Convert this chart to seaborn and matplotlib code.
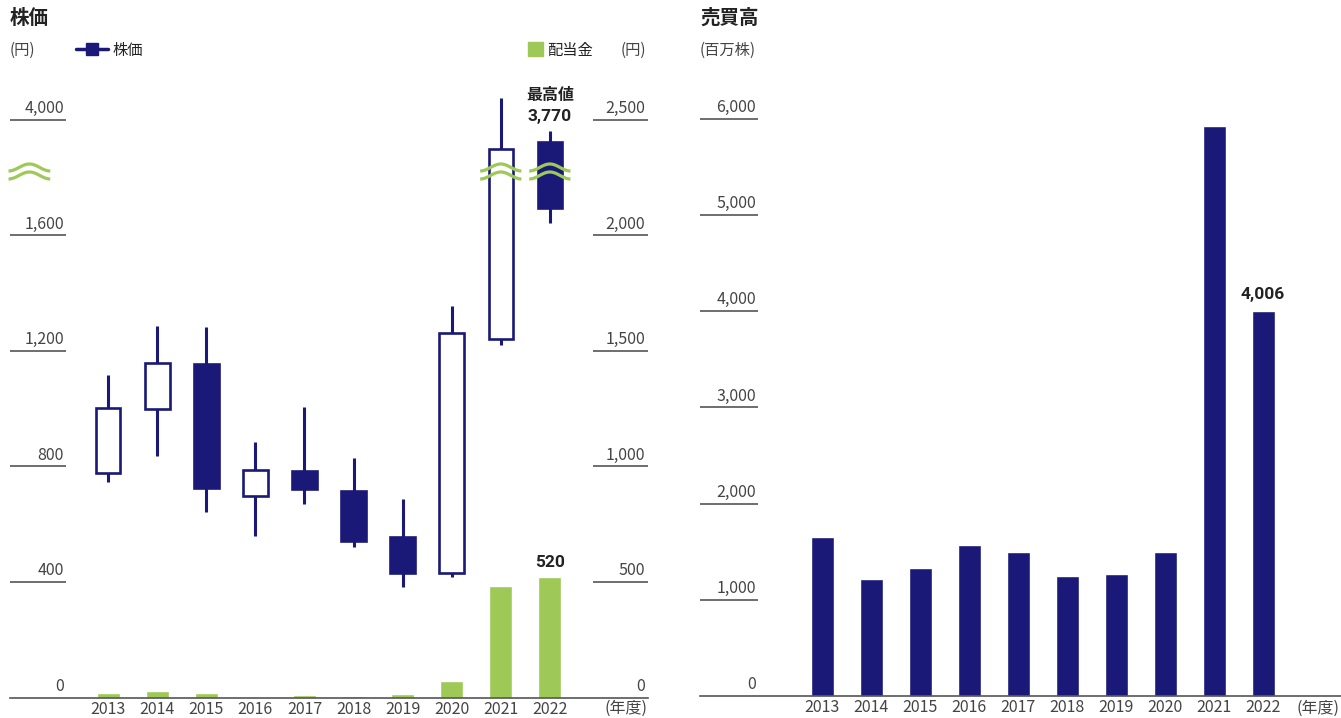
import numpy as np
import matplotlib
matplotlib.use("Agg")
import matplotlib.pyplot as plt
import matplotlib.transforms as mtransforms
from matplotlib.lines import Line2D
from matplotlib.patches import Patch
import seaborn as sns

# data
years = ["2013", "2014", "2015", "2016", "2017", "2018", "2019", "2020", "2021", "2022"]
price_open = [778, 1000, 1155, 698, 783, 715, 556, 432, 1240, 3534]
price_close = [1003, 1157, 726, 788, 721, 543, 432, 1261, 3396, 2176]
price_high = [1118, 1286, 1283, 885, 1006, 829, 687, 1356, 4450, 3770]
price_low = [747, 837, 643, 560, 671, 522, 384, 416, 1220, 1864]
dividend = [20, 26.7, 20, 0, 10, 6.7, 13.3, 70, 483.3, 520]
volume = [1653, 1216, 1331, 1570, 1497, 1247, 1268, 1497, 5930, 4006]

price_ticks = [0, 400, 800, 1200, 1600, 4000]
price_tick_labels = ["0", "400", "800", "1,200", "1,600", "4,000"]
div_ticks = [0, 500, 1000, 1500, 2000, 2500]
div_tick_labels = ["0", "500", "1,000", "1,500", "2,000", "2,500"]
vol_ticks = [0, 1000, 2000, 3000, 4000, 5000, 6000]
vol_tick_labels = ["0", "1,000", "2,000", "3,000", "4,000", "5,000", "6,000"]

NAVY = "#1b1977"
GREEN = "#9ec957"
TXT = "#222222"
TICK = "#444444"
LINE = "#555555"

sns.set_theme(style="white")
plt.rcParams["font.family"] = ["Liberation Sans Narrow", "Noto Sans CJK JP", "DejaVu Sans"]
JP = ["Noto Sans CJK JP", "DejaVu Sans"]
BOLDNUM = ["Roboto", "Noto Sans CJK JP"]

W, H = 1341, 718
fig = plt.figure(figsize=(W / 100, H / 100), dpi=100)


def fx(x):
    return x / W


def fy(y):
    return 1 - y / H


# broken price axis: linear to 1,600, compressed above
BRK = 1600.0
SQZ = 6.0


def fwd(v):
    v = np.asarray(v, dtype=float)
    return np.where(v <= BRK, v, BRK + (v - BRK) / SQZ)


def inv(p):
    p = np.asarray(p, dtype=float)
    return np.where(p <= BRK, p, BRK + (p - BRK) * SQZ)


# ---------------- left: price + dividend ----------------
ax = fig.add_axes([fx(10), fy(697.5), fx(648) - fx(10), fy(60) - fy(697.5)])
ax2 = ax.twinx()
ax.set_zorder(ax2.get_zorder() + 1)
ax.patch.set_visible(False)

top_pos = 2207
sns.barplot(x=years, y=dividend, color=GREEN, saturation=1, width=0.47, ax=ax2)
ax2.set_ylim(0, top_pos * 1.25)
ax2.set_yticks([])
ax2.set_ylabel("")

ax.set_yscale("function", functions=(fwd, inv))
ax.set_ylim(0, float(inv(top_pos)))
x = np.arange(len(years))
ax.vlines(x, price_low, price_high, color=NAVY, lw=2.2, zorder=2)
for i in range(len(years)):
    o, c = price_open[i], price_close[i]
    up = c >= o
    ax.bar(i, abs(c - o), bottom=min(o, c), width=0.5,
           facecolor="white" if up else NAVY, edgecolor=NAVY, lw=1.9, zorder=3)
ax.set_xlim(-2, 11)

ax.set_xticks(x)
ax.set_xticklabels(years)
ax.tick_params(axis="x", length=0, pad=2.5, labelsize=11.5, colors=TICK)
ax.set_yticks([])
for s in ["top", "left", "right"]:
    ax.spines[s].set_visible(False)
    ax2.spines[s].set_visible(False)
ax.spines["bottom"].set_color(LINE)
ax.spines["bottom"].set_linewidth(1.2)
ax2.spines["bottom"].set_visible(False)

# tick labels drawn as short rules with the value above them
for v, lab in zip(price_ticks[1:], price_tick_labels[1:]):
    ax.hlines(v, -2, -0.86, color=LINE, lw=1.2, clip_on=False)
    ax.annotate(lab, (-0.9, v), xytext=(0, 2), textcoords="offset points",
                ha="right", va="bottom", fontsize=11.5, color=TICK)
ax.annotate("0", (-0.9, 0), xytext=(0, 2), textcoords="offset points",
            ha="right", va="bottom", fontsize=11.5, color=TICK)
for v, lab in zip(div_ticks, div_tick_labels):
    if v > 0:
        ax2.hlines(v, 9.87, 11, color=LINE, lw=1.2, clip_on=False)
    ax2.annotate(lab, (10.94, v), xytext=(0, 2), textcoords="offset points",
                 ha="right", va="bottom", fontsize=11.5, color=TICK)

# break marks
trans = mtransforms.blended_transform_factory(ax.transData, ax.transAxes)
t = np.linspace(-np.pi, np.pi, 60)
amp = 3.5 / 637.5
for x0, x1 in [(-2.03, -1.18), (7.58, 8.42), (8.58, 9.42)]:
    xs = np.linspace(x0, x1, 60)
    for yc in [(697.5 - 167.5) / 637.5, (697.5 - 175.5) / 637.5]:
        ax.plot(xs, yc + amp * np.cos(t), color=GREEN, lw=2.3, transform=trans,
                clip_on=False, zorder=6, solid_capstyle="butt")

# annotations
ax.annotate("3,770", (9, price_high[9]), xytext=(0, 5), textcoords="offset points",
            ha="center", va="bottom", fontsize=12.5, fontweight="bold", color=TXT,
            family=BOLDNUM, zorder=7)
ax.annotate("最高値", (9, price_high[9]), xytext=(0, 20), textcoords="offset points",
            ha="center", va="bottom", fontsize=11.5, fontweight="bold", color=TXT,
            family=JP, zorder=7)
ax2.annotate("520", (9, dividend[9]), xytext=(0, 5), textcoords="offset points",
             ha="center", va="bottom", fontsize=12.5, fontweight="bold", color=TXT,
             family=BOLDNUM)

fig.text(fx(10), fy(18), "株価", ha="left", va="center", fontsize=14,
         fontweight="bold", color=TXT, family=JP)
fig.text(fx(10), fy(50), "(円)", ha="left", va="center", fontsize=11, color=TICK, family=JP)
fig.text(fx(646), fy(50), "(円)", ha="right", va="center", fontsize=11, color=TICK, family=JP)
fig.text(fx(648), fy(708), "(年度)", ha="right", va="center", fontsize=11.5, color=TICK, family=JP)

leg1 = fig.legend(handles=[Line2D([], [], color=NAVY, lw=2.5, marker="s", markersize=9)],
                  labels=["株価"], loc="center left", bbox_to_anchor=(fx(68), fy(50)),
                  frameon=False, handlelength=2.1, handletextpad=0.3, borderpad=0,
                  prop={"family": JP, "size": 11}, labelcolor=TXT)
leg2 = fig.legend(handles=[Patch(color=GREEN)], labels=["配当金"], loc="center left",
                  bbox_to_anchor=(fx(520), fy(50)), frameon=False, handlelength=1.0,
                  handleheight=1.0, handletextpad=0.3, borderpad=0,
                  prop={"family": JP, "size": 11}, labelcolor=TXT)

# ---------------- right: trading volume ----------------
bx = fig.add_axes([fx(700), fy(696), fx(1341) - fx(700), fy(60) - fy(696)])
sns.barplot(x=years, y=volume, color=NAVY, saturation=1, width=0.47, ax=bx)
bx.set_xlim(-2.49, 10.59)
bx.set_ylim(0, 6611)
bx.set_ylabel("")
bx.set_yticks([])
bx.tick_params(axis="x", length=0, pad=2.5, labelsize=11.5, colors=TICK)
for s in ["top", "left", "right"]:
    bx.spines[s].set_visible(False)
bx.spines["bottom"].set_color(LINE)
bx.spines["bottom"].set_linewidth(1.2)
for v, lab in zip(vol_ticks, vol_tick_labels):
    if v > 0:
        bx.hlines(v, -2.49, -1.31, color=LINE, lw=1.2, clip_on=False)
    bx.annotate(lab, (-1.35, v), xytext=(0, 2), textcoords="offset points",
                ha="right", va="bottom", fontsize=11.5, color=TICK)
bx.annotate("4,006", (9, volume[9]), xytext=(0, 6), textcoords="offset points",
            ha="center", va="bottom", fontsize=12.5, fontweight="bold", color=TXT,
            family=BOLDNUM)

fig.text(fx(700), fy(18), "売買高", ha="left", va="center", fontsize=14,
         fontweight="bold", color=TXT, family=JP)
fig.text(fx(700), fy(50), "(百万株)", ha="left", va="center", fontsize=11, color=TICK, family=JP)
fig.text(fx(1339), fy(708), "(年度)", ha="right", va="center", fontsize=11.5, color=TICK, family=JP)

fig.savefig("out.png", dpi=100)
